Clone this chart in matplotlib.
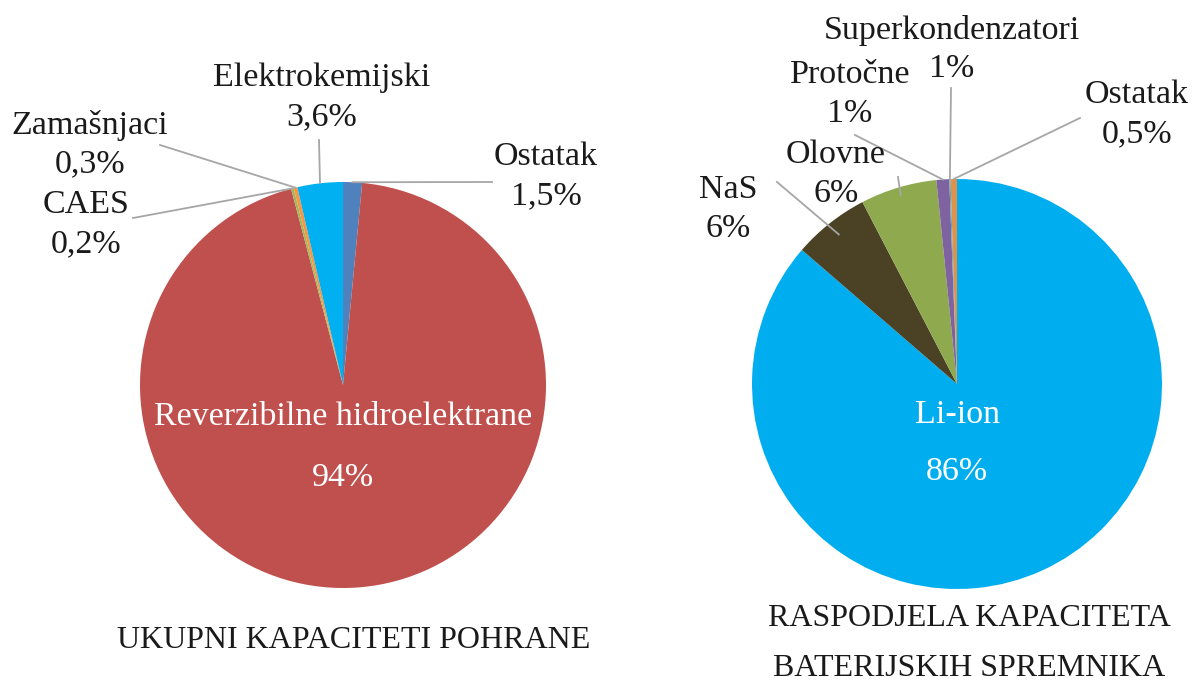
import numpy as np
import matplotlib.pyplot as plt

plt.rcParams['font.family'] = ['Liberation Serif', 'DejaVu Serif']

# lijevi graf - ukupni kapaciteti pohrane (redoslijed u smjeru kazaljke od vrha)
left_names = ['Ostatak', 'Reverzibilne hidroelektrane', 'CAES', 'Zamašnjaci', 'Elektrokemijski']
left_values = [1.5, 94, 0.2, 0.3, 3.6]
left_labels = ['1,5%', '94%', '0,2%', '0,3%', '3,6%']
left_colors = ['#4F81BD', '#C0504D', '#9BBB59', '#F79646', '#00B0F0']

# desni graf - raspodjela kapaciteta baterijskih spremnika
right_names = ['Li-ion', 'NaS', 'Olovne', 'Protočne', 'Superkondenzatori', 'Ostatak']
right_values = [86, 6, 6, 1, 0.1, 0.5]
right_labels = ['86%', '6%', '6%', '1%', '1%', '0,5%']
right_colors = ['#00AEEF', '#4B4226', '#8FAA4E', '#7F63A1', '#4BACC6', '#E0924A']

W, H = 1196, 691
fig = plt.figure(figsize=(W / 100, H / 100), dpi=100)
ax = fig.add_axes([0, 0, 1, 1])


def Y(y):
    return H - y


def edge_points(values, center, radius):
    vals = np.array(values, dtype=float)
    total = vals.sum()
    mid = np.cumsum(vals) - vals / 2
    ang = np.deg2rad(90 - 360 * mid / total)
    return [(center[0] + radius * np.cos(a), center[1] + radius * np.sin(a)) for a in ang]


line_col = '#A6A6A6'
fs = 24.5
txt_col = '#1a1a1a'

# lijevi pie
c1, r1 = (343, Y(385)), 203
ax.pie(left_values, colors=left_colors, startangle=90, counterclock=False,
       center=c1, radius=r1, wedgeprops=dict(linewidth=0), frame=True)
pts1 = edge_points(left_values, c1, r1)

# (indeks, pozicija teksta, pocetak linije)
left_outside = [
    (0, (546, 157), (492, 182)),
    (2, (86, 205), (133, 218)),
    (3, (90, 125), (160, 145)),
    (4, (322, 78), (319, 140)),
]
for i, (tx, ty), (lx, ly) in left_outside:
    ax.text(tx, Y(ty), left_names[i], ha='center', va='center', fontsize=fs, color=txt_col)
    ax.text(tx, Y(ty + 39), left_labels[i], ha='center', va='center', fontsize=fs, color=txt_col)
    px, py = pts1[i]
    ax.plot([lx, px], [Y(ly), py], color=line_col, lw=1.3)

ax.text(343, Y(417), left_names[1], ha='center', va='center', fontsize=fs, color='white')
ax.text(343, Y(478), left_labels[1], ha='center', va='center', fontsize=fs, color='white')

# desni pie
c2, r2 = (957, Y(384)), 205
ax.pie(right_values, colors=right_colors, startangle=90, counterclock=False,
       center=c2, radius=r2, wedgeprops=dict(linewidth=0), frame=True)
pts2 = edge_points(right_values, c2, r2)

right_outside = [
    (1, (728, 190), (777, 182), 0.93),
    (2, (836, 155), (898, 177), 0.96),
    (3, (850, 75), (855, 135), 1.0),
    (4, (952, 30), (951, 88), 1.0),
    (5, (1137, 95), (1080, 118), 1.0),
]
for i, (tx, ty), (lx, ly), f in right_outside:
    ax.text(tx, Y(ty), right_names[i], ha='center', va='center', fontsize=fs, color=txt_col)
    ax.text(tx, Y(ty + 39), right_labels[i], ha='center', va='center', fontsize=fs, color=txt_col)
    px, py = pts2[i]
    px = c2[0] + f * (px - c2[0])
    py = c2[1] + f * (py - c2[1])
    ax.plot([lx, px], [Y(ly), py], color=line_col, lw=1.3)

ax.text(957, Y(415), right_names[0], ha='center', va='center', fontsize=fs, color='white')
ax.text(957, Y(472), right_labels[0], ha='center', va='center', fontsize=fs, color='white')

# naslovi ispod
ax.text(354, Y(641), 'UKUPNI KAPACITETI POHRANE', ha='center', va='center', fontsize=23, color=txt_col)
ax.text(969, Y(618), 'RASPODJELA KAPACITETA', ha='center', va='center', fontsize=23, color=txt_col)
ax.text(969, Y(668), 'BATERIJSKIH SPREMNIKA', ha='center', va='center', fontsize=23, color=txt_col)

ax.set_xlim(0, W)
ax.set_ylim(0, H)
ax.set_aspect('equal')
ax.axis('off')

fig.savefig('out.png', dpi=100, facecolor='white')
